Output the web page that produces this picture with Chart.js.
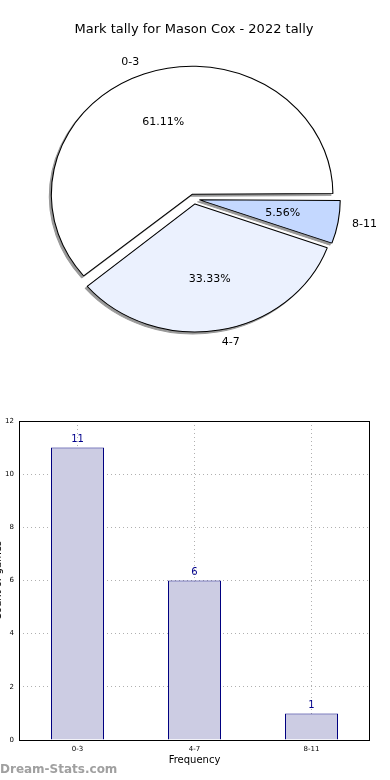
<!DOCTYPE html>
<html>
<head>
<meta charset="utf-8">
<script src="https://cdn.jsdelivr.net/npm/chart.js@4"></script>
<style>
  html, body { margin: 0; padding: 0; background: #fff; overflow: hidden; }
  body { width: 390px; height: 780px; position: relative; }
  #tallyPie { position: absolute; left: 0; top: 0; }
  #tallyBar { position: absolute; left: -14px; top: 400px; }
  #mark { position: absolute; left: 0; top: 762px; font: bold 12px "DejaVu Sans", sans-serif; color: #a0a0a0; }
</style>
</head>
<body>
<canvas id="tallyPie" width="390" height="380"></canvas>
<canvas id="tallyBar" width="404" height="380"></canvas>
<div id="mark">Dream-Stats.com</div>
<script>
const categories = ['0-3', '4-7', '8-11']
const tally = [11, 6, 1]
const yTicks = [0, 2, 4, 6, 8, 10, 12]

const total = tally.reduce((acc, v) => acc + v, 0)
const percentLabels = tally.map(v => (v / total * 100).toFixed(2) + '%')

const FONT = '"DejaVu Sans", sans-serif'
const squash = 1.1   // the pie is drawn wider than tall
const explode = 20   // chart.js divides arc offset by 4

// pie is drawn clockwise in chart.js, matplotlib goes the other way
const pieLabels = categories.slice().reverse()
const pieData = tally.slice().reverse()
const piePct = percentLabels.slice().reverse()

const pieLook = {
  id: 'pieLook',
  beforeDatasetsDraw(chart) {
    const ctx = chart.ctx
    const arcs = chart.getDatasetMeta(0).data
    arcs.forEach(arc => {
      const fix = 1 - Math.sin(Math.min(Math.PI, arc.circumference))
      arc.outerRadius = 128 - explode / 4 * fix
    })
    const {x, y} = arcs[0]
    ctx.save()
    ctx.translate(x, y)
    ctx.scale(squash, 1)
    ctx.translate(-x, -y)
    // flat grey copy of every wedge, nudged down-left, as a shadow
    arcs.forEach(arc => {
      const keep = arc.options
      arc.options = Object.assign({}, keep, { backgroundColor: '#999', borderColor: '#999' })
      ctx.save()
      ctx.translate(-2 / squash, 2)
      arc.draw(ctx)
      ctx.restore()
      arc.options = keep
    })
  },
  afterDatasetsDraw(chart) {
    const ctx = chart.ctx
    ctx.restore()
    const arcs = chart.getDatasetMeta(0).data
    ctx.save()
    ctx.fillStyle = '#000'
    ctx.font = '11px ' + FONT
    ctx.textBaseline = 'middle'
    arcs.forEach((arc, i) => {
      const mid = (arc.startAngle + arc.endAngle) / 2
      const r = 128
      const ox = Math.cos(mid) * explode / 4
      const oy = Math.sin(mid) * explode / 4
      const place = f => [
        arc.x + (ox + Math.cos(mid) * r * f) * squash,
        arc.y + oy + Math.sin(mid) * r * f
      ]
      let [px, py] = place(0.6)
      ctx.textAlign = 'center'
      ctx.fillText(piePct[i], px, py)
      ;[px, py] = place(1.1)
      ctx.textAlign = Math.cos(mid) >= 0 ? 'left' : 'right'
      ctx.fillText(pieLabels[i], px, py)
    })
    ctx.restore()
  }
}

new Chart(document.getElementById('tallyPie'), {
  type: 'pie',
  data: {
    labels: pieLabels,
    datasets: [{
      data: pieData,
      backgroundColor: ['#c4d8ff', '#ebf1fe', '#ffffff'],
      borderColor: '#000',
      borderWidth: 1,
      offset: explode,
      radius: 128
    }]
  },
  options: {
    responsive: false,
    animation: false,
    rotation: 90,
    layout: { padding: { left: 0, right: 2, top: 0, bottom: 47 } },
    plugins: {
      legend: { display: false },
      tooltip: { enabled: false },
      title: {
        display: true,
        text: 'Mark tally for Mason Cox - 2022 tally',
        color: '#000',
        font: { family: FONT, size: 13, weight: 'normal' },
        padding: { top: 22, bottom: 27.4 }
      }
    }
  },
  plugins: [pieLook]
})

const barLook = {
  id: 'barLook',
  afterDatasetsDraw(chart) {
    const ctx = chart.ctx
    const {left, top, width, height} = chart.chartArea
    ctx.save()
    ctx.strokeStyle = '#000'
    ctx.lineWidth = 1
    ctx.strokeRect(left + 0.5, top + 0.5, width - 1, height)
    ctx.fillStyle = '#00008b'
    ctx.font = '10px ' + FONT
    ctx.textAlign = 'center'
    ctx.textBaseline = 'bottom'
    chart.getDatasetMeta(0).data.forEach((bar, i) => {
      ctx.fillText(String(tally[i]), bar.x, bar.y - 3)
    })
    ctx.restore()
  }
}

new Chart(document.getElementById('tallyBar'), {
  type: 'bar',
  data: {
    labels: categories,
    datasets: [{
      data: tally,
      backgroundColor: '#ccccE3',
      borderColor: '#000080',
      borderWidth: 1,
      barPercentage: 53 / 117,
      categoryPercentage: 1
    }]
  },
  options: {
    responsive: false,
    animation: false,
    layout: { padding: { left: 0, right: 20, top: 21, bottom: 0 } },
    plugins: { legend: { display: false }, tooltip: { enabled: false } },
    scales: {
      x: {
        afterFit(scale) { scale.height = 40 },
        grid: { offset: false, color: '#b0b0b0', drawTicks: false },
        border: { display: false, dash: [1, 3] },
        ticks: { color: '#000', font: { family: FONT, size: 7 }, padding: 5 },
        title: {
          display: true, text: 'Frequency', color: '#000',
          font: { family: FONT, size: 10 }, padding: { top: 0, bottom: 14 }
        }
      },
      y: {
        min: 0,
        max: 12,
        afterFit(scale) { scale.width = 33 },
        afterBuildTicks(scale) { scale.ticks = yTicks.map(v => ({ value: v })) },
        grid: { color: '#b0b0b0', drawTicks: false },
        border: { display: false, dash: [1, 3] },
        ticks: { color: '#000', font: { family: FONT, size: 7 }, padding: 5 },
        title: {
          display: true, text: 'Count of games', color: '#000',
          font: { family: FONT, size: 10 }, padding: { top: 6.5, bottom: 0 }
        }
      }
    }
  },
  plugins: [barLook]
})
</script>
</body>
</html>
